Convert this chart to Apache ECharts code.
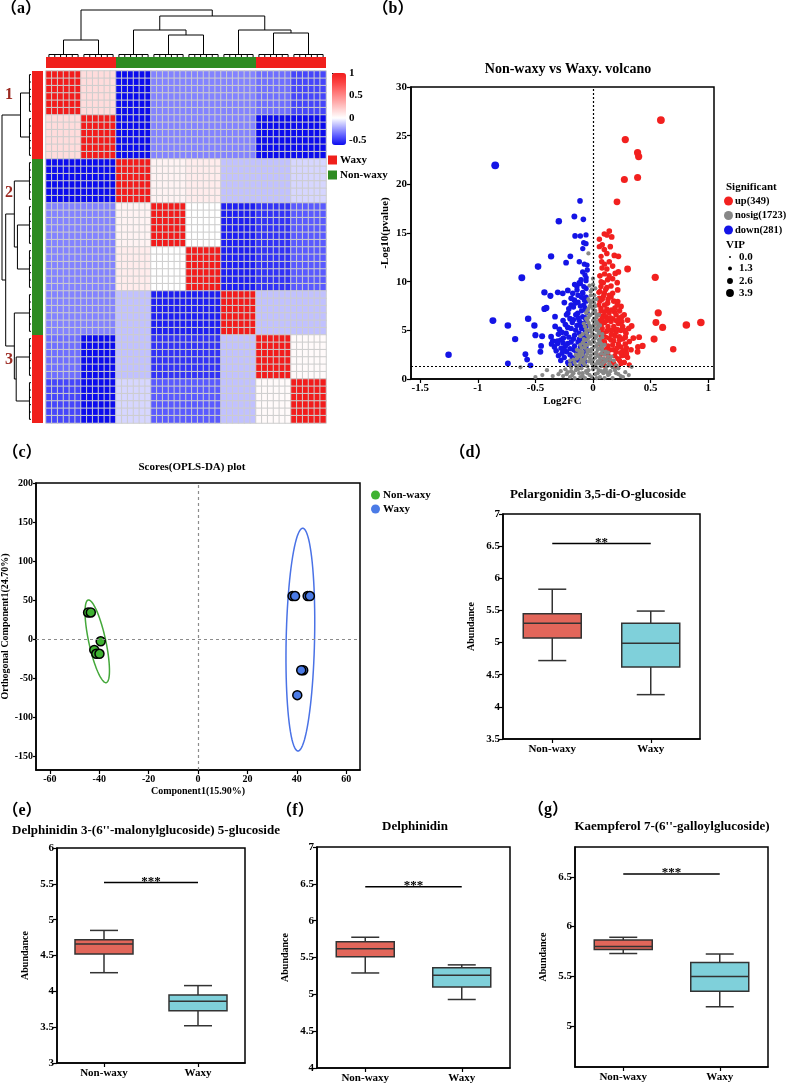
<!DOCTYPE html>
<html>
<head>
<meta charset="utf-8">
<script src="https://cdn.jsdelivr.net/npm/echarts@6/dist/echarts.min.js"></script>
<style>
html, body { margin: 0; padding: 0; background: #fff; }
#fig { width: 787px; height: 1084px; }
</style>
</head>
<body>
<div id="fig"></div>
<script>
// ---------- (a) sample correlation heatmap: 8 sample blocks x 6 replicates ----------
var blockCorr = [
    [1, 0.15, -0.6, -0.3, -0.3, -0.3, -0.35, -0.45],
    [0.15, 1, -0.6, -0.3, -0.3, -0.3, -0.6, -0.6],
    [-0.6, -0.6, 1, 0.05, 0.08, -0.15, -0.15, -0.1],
    [-0.3, -0.3, 0.05, 1, 0.0, -0.55, -0.5, -0.4],
    [-0.3, -0.3, 0.08, 0.0, 1, -0.55, -0.5, -0.4],
    [-0.3, -0.3, -0.15, -0.55, -0.55, 1, -0.15, -0.15],
    [-0.35, -0.6, -0.15, -0.5, -0.5, -0.15, 1, 0.02],
    [-0.45, -0.6, -0.1, -0.4, -0.4, -0.15, 0.02, 1]
];
var repsPerBlock = 6;
var blockGroups = ['Waxy', 'Waxy', 'Non-waxy', 'Non-waxy', 'Non-waxy', 'Non-waxy', 'Waxy', 'Waxy'];
// cluster tree over blocks: [left, right, mergeHeight]
var blockTree = [[0, 1, 17], [[2, [3, 4, 22], 27], [5, [6, 7, 24], 27], 41], 47];
var repMergeHeight = 2.5;
var corrTicks = [-0.5, 0, 0.5, 1];
var clusterLabels = ['1', '2', '3'];

// ---------- (b) volcano: [log2FC, -log10(p), VIP] ----------
var upPoints = [
    [0.589, 26.6, 3.9], [0.28, 24.6, 3.5], [0.387, 23.25, 3.5], [0.396, 22.85, 3.5], [0.272, 20.5, 3.4],
    [0.387, 20.7, 3.4], [0.208, 18.2, 3.2], [0.54, 10.45, 3.5], [0.30, 11.3, 3.2], [0.566, 6.8, 3.5],
    [0.546, 5.8, 3.3], [0.604, 5.3, 3.4], [0.81, 5.55, 3.7], [0.936, 5.8, 3.7], [0.53, 4.1, 3.4],
    [0.696, 3.05, 3.0], [0.335, 5.45, 2.6], [0.40, 4.3, 2.6], [0.35, 4.2, 2.6], [0.43, 3.4, 2.8],
    [0.39, 3.3, 2.6], [0.387, 2.8, 2.6], [0.286, 2.8, 2.4], [0.27, 1.7, 2.4], [0.315, 1.45, 2.2],
    [0.141, 15.2, 2.5], [0.098, 14.9, 2.4], [0.162, 14.6, 2.5], [0.055, 14.35, 2.3], [0.121, 14.8, 2.4],
    [0.055, 13.6, 2.3], [0.098, 13.3, 2.4], [0.15, 13.6, 2.4], [0.185, 12.7, 2.5], [0.22, 12.6, 2.6],
    [0.075, 12.05, 2.3], [0.141, 12.05, 2.4], [0.078, 11.4, 2.3], [0.12, 11.3, 2.4], [0.193, 10.85, 2.5],
    [0.22, 11.0, 2.5], [0.06, 10.6, 2.2], [0.127, 10.2, 2.4], [0.156, 9.55, 2.4], [0.069, 9.5, 2.3],
    [0.214, 9.15, 2.5], [0.098, 8.8, 2.3], [0.156, 8.45, 2.4], [0.055, 8.3, 2.2], [0.214, 7.95, 2.5],
    [0.127, 7.8, 2.4], [0.243, 7.45, 2.5], [0.069, 7.25, 2.3], [0.185, 6.9, 2.4], [0.27, 6.6, 2.5],
    [0.113, 6.4, 2.3], [0.228, 6.25, 2.4], [0.156, 5.9, 2.3], [0.30, 6.05, 2.5], [0.075, 5.65, 2.2],
    [0.257, 5.4, 2.4], [0.19, 5.05, 2.3], [0.12, 4.9, 2.3], [0.286, 4.7, 2.4], [0.228, 4.35, 2.3],
    [0.156, 4.0, 2.3], [0.098, 3.65, 2.2], [0.315, 3.85, 2.4], [0.243, 3.3, 2.3], [0.179, 3.0, 2.3],
    [0.127, 2.65, 2.2], [0.27, 2.45, 2.3], [0.214, 2.1, 2.2], [0.156, 1.75, 2.2], [0.243, 1.6, 2.2],
    [0.06, 9.0, 2.2], [0.08, 8.2, 2.3], [0.1, 7.6, 2.3], [0.07, 7.0, 2.2], [0.12, 7.2, 2.3],
    [0.09, 6.5, 2.3], [0.14, 6.8, 2.3], [0.06, 6.0, 2.2], [0.1, 5.8, 2.3], [0.17, 6.2, 2.3],
    [0.2, 6.6, 2.4], [0.08, 5.2, 2.2], [0.13, 5.4, 2.3], [0.22, 5.7, 2.4], [0.16, 4.6, 2.3],
    [0.07, 4.5, 2.2], [0.11, 4.3, 2.2], [0.2, 4.8, 2.3], [0.24, 5.0, 2.4], [0.26, 4.1, 2.3],
    [0.18, 3.9, 2.3], [0.13, 3.4, 2.2], [0.08, 3.9, 2.2], [0.22, 3.6, 2.3], [0.29, 3.2, 2.3],
    [0.15, 3.0, 2.2], [0.1, 2.6, 2.2], [0.2, 2.8, 2.2], [0.25, 2.4, 2.3], [0.12, 2.0, 2.1],
    [0.18, 1.6, 2.1], [0.23, 1.9, 2.2], [0.3, 2.2, 2.3], [0.27, 1.7, 2.2], [0.06, 10.6, 2.2],
    [0.09, 9.9, 2.3], [0.11, 9.2, 2.3], [0.14, 8.6, 2.3], [0.18, 8.0, 2.4], [0.19, 7.3, 2.4],
    [0.23, 7.0, 2.4], [0.16, 5.0, 2.3], [0.06, 8.0, 2.2], [0.07, 3.2, 2.1], [0.1, 11.8, 2.3],
    [0.17, 10.3, 2.4], [0.21, 9.9, 2.4], [0.12, 12.9, 2.4], [0.08, 13.8, 2.3],
    [0.08, 1.8, 2.1], [0.1, 1.4, 2.1], [0.14, 2.3, 2.2], [0.19, 2.4, 2.2], [0.06, 2.4, 2.1],
    [0.09, 3.0, 2.1], [0.12, 3.1, 2.2], [0.17, 3.5, 2.2], [0.21, 3.2, 2.3], [0.26, 2.9, 2.3],
    [0.06, 3.6, 2.1], [0.1, 3.8, 2.2], [0.14, 4.2, 2.2], [0.19, 4.4, 2.3], [0.23, 4.0, 2.3],
    [0.28, 3.6, 2.4], [0.06, 4.9, 2.1], [0.09, 4.7, 2.2], [0.13, 5.1, 2.2], [0.18, 5.4, 2.3],
    [0.21, 5.1, 2.3], [0.27, 5.0, 2.4], [0.05, 5.6, 2.1], [0.08, 6.2, 2.2], [0.12, 6.0, 2.2],
    [0.15, 6.3, 2.3], [0.2, 6.0, 2.3], [0.25, 5.9, 2.4], [0.05, 6.6, 2.1], [0.1, 6.9, 2.2],
    [0.16, 7.1, 2.3], [0.21, 7.6, 2.4], [0.05, 7.6, 2.1], [0.13, 8.2, 2.3], [0.09, 8.5, 2.2],
    [0.17, 8.8, 2.3], [0.05, 8.9, 2.1], [0.12, 9.4, 2.3], [0.07, 10.0, 2.2], [0.14, 10.6, 2.3],
    [0.1, 10.8, 2.3], [0.17, 11.6, 2.4], [0.07, 12.6, 2.2], [0.2, 1.3, 2.2], [0.29, 2.6, 2.3],
    [0.33, 3.0, 2.4], [0.24, 2.7, 2.3], [0.28, 4.3, 2.4], [0.31, 5.2, 2.4], [0.25, 6.4, 2.4]
];
var downPoints = [
    [-0.849, 21.95, 3.9], [-0.113, 18.3, 2.4], [-0.297, 16.2, 3.0], [-0.162, 16.7, 2.6], [-0.084, 16.4, 2.4],
    [-0.364, 12.6, 2.9], [-0.477, 11.55, 3.1], [-0.618, 10.4, 3.3], [-0.869, 6.0, 3.3], [-0.739, 5.5, 3.1],
    [-0.563, 6.2, 3.0], [-0.509, 5.5, 2.9], [-0.676, 4.1, 2.9], [-0.5, 4.5, 2.8], [-0.442, 4.4, 2.7],
    [-1.254, 2.5, 3.0], [-0.739, 1.6, 2.6], [-0.543, 1.4, 2.5], [-0.587, 2.55, 2.6], [-0.572, 2.0, 2.5],
    [-0.457, 2.8, 2.6], [-0.451, 3.4, 2.6], [-0.422, 8.9, 2.9], [-0.37, 8.55, 2.8], [-0.422, 7.2, 2.8],
    [-0.405, 7.3, 2.8],
    [-0.156, 14.7, 2.4], [-0.11, 14.7, 2.3], [-0.061, 14.8, 2.2], [-0.081, 14.0, 2.2], [-0.061, 13.9, 2.2],
    [-0.089, 13.4, 2.2], [-0.197, 12.6, 2.5], [-0.234, 11.95, 2.5], [-0.119, 12.05, 2.3], [-0.075, 11.8, 2.2],
    [-0.052, 11.7, 2.2], [-0.104, 10.2, 2.3], [-0.061, 10.1, 2.2], [-0.306, 8.9, 2.6], [-0.263, 8.8, 2.5],
    [-0.219, 9.1, 2.5], [-0.176, 8.8, 2.4], [-0.139, 9.15, 2.3], [-0.249, 7.85, 2.5], [-0.19, 7.6, 2.4],
    [-0.162, 8.1, 2.4], [-0.219, 6.75, 2.4], [-0.329, 5.4, 2.5], [-0.292, 5.1, 2.5], [-0.364, 4.35, 2.5],
    [-0.306, 3.65, 2.4], [-0.234, 4.7, 2.4], [-0.219, 3.65, 2.3], [-0.269, 2.65, 2.3], [-0.277, 3.15, 2.4],
    [-0.167, 3.0, 2.3], [-0.133, 1.95, 2.2], [-0.19, 1.8, 2.2], [-0.104, 4.0, 2.2], [-0.089, 5.7, 2.2],
    [-0.133, 6.75, 2.3], [-0.061, 7.1, 2.2], [-0.089, 8.8, 2.2], [-0.075, 8.1, 2.2], [-0.119, 4.7, 2.2],
    [-0.061, 4.7, 2.1], [-0.061, 3.3, 2.1], [-0.089, 2.65, 2.1], [-0.335, 3.3, 2.4], [-0.349, 3.9, 2.5],
    [-0.257, 4.2, 2.4],
    [-0.06, 9.3, 2.2], [-0.08, 7.6, 2.2], [-0.1, 7.0, 2.2], [-0.07, 6.3, 2.2], [-0.12, 6.0, 2.3],
    [-0.15, 6.6, 2.3], [-0.06, 5.4, 2.1], [-0.1, 5.2, 2.2], [-0.14, 5.5, 2.3], [-0.18, 5.8, 2.3],
    [-0.2, 6.2, 2.4], [-0.22, 5.3, 2.4], [-0.08, 4.4, 2.2], [-0.12, 4.1, 2.2], [-0.16, 4.5, 2.3],
    [-0.19, 3.8, 2.3], [-0.24, 3.4, 2.3], [-0.07, 3.7, 2.1], [-0.11, 3.3, 2.2], [-0.15, 2.9, 2.2],
    [-0.2, 2.5, 2.2], [-0.25, 2.2, 2.3], [-0.09, 2.4, 2.1], [-0.13, 2.1, 2.1], [-0.17, 1.6, 2.1],
    [-0.22, 1.7, 2.2], [-0.28, 1.9, 2.3], [-0.06, 8.4, 2.2], [-0.09, 8.9, 2.2], [-0.13, 7.9, 2.3],
    [-0.17, 7.4, 2.3], [-0.11, 9.8, 2.3], [-0.07, 10.7, 2.2], [-0.05, 11.2, 2.2], [-0.14, 9.5, 2.3],
    [-0.21, 7.2, 2.4], [-0.26, 6.0, 2.4], [-0.3, 4.6, 2.4], [-0.32, 2.9, 2.4], [-0.05, 6.8, 2.1],
    [-0.05, 4.9, 2.1],
    [-0.07, 1.8, 2.1], [-0.1, 1.5, 2.1], [-0.14, 2.5, 2.2], [-0.18, 2.2, 2.2], [-0.23, 2.8, 2.3],
    [-0.07, 2.9, 2.1], [-0.11, 2.8, 2.2], [-0.16, 3.4, 2.2], [-0.2, 3.1, 2.3], [-0.26, 3.7, 2.3],
    [-0.06, 4.1, 2.1], [-0.09, 3.6, 2.2], [-0.13, 3.8, 2.2], [-0.17, 4.1, 2.3], [-0.21, 4.3, 2.3],
    [-0.27, 4.8, 2.4], [-0.07, 5.0, 2.1], [-0.11, 5.6, 2.2], [-0.15, 5.0, 2.3], [-0.19, 5.2, 2.3],
    [-0.24, 5.6, 2.4], [-0.06, 6.0, 2.1], [-0.09, 6.4, 2.2], [-0.13, 6.3, 2.2], [-0.17, 6.1, 2.3],
    [-0.23, 6.6, 2.4], [-0.07, 7.3, 2.2], [-0.11, 7.5, 2.2], [-0.15, 7.8, 2.3], [-0.19, 8.3, 2.4],
    [-0.06, 8.0, 2.1], [-0.1, 8.4, 2.2], [-0.13, 8.6, 2.3], [-0.08, 9.5, 2.2], [-0.12, 9.9, 2.3],
    [-0.16, 9.7, 2.3], [-0.06, 10.4, 2.2], [-0.09, 11.0, 2.2], [-0.28, 4.0, 2.4], [-0.31, 3.9, 2.4],
    [-0.25, 3.0, 2.3], [-0.21, 1.5, 2.2], [-0.3, 2.4, 2.3], [-0.36, 3.6, 2.5], [-0.33, 6.4, 2.5]
];
var nosigPoints = [
    [-0.02, 8.6, 1.5], [0.0, 9.7, 1.5], [-0.04, 12.9, 1.5], [-0.03, 8.0, 1.5], [0.01, 7.8, 1.5],
    [-0.04, 7.2, 1.5], [0.02, 7.0, 1.5], [-0.02, 6.6, 1.5], [0.03, 6.3, 1.5], [-0.05, 6.0, 1.5],
    [0.0, 6.0, 1.5], [0.04, 5.7, 1.5], [-0.03, 5.5, 1.5], [-0.06, 5.1, 1.5], [0.02, 5.2, 1.5],
    [0.05, 4.9, 1.5], [-0.01, 4.8, 1.5], [-0.05, 4.5, 1.5], [0.03, 4.4, 1.5], [-0.08, 4.1, 1.5],
    [0.06, 4.1, 1.5], [0.0, 4.0, 1.5], [-0.03, 3.8, 1.5], [0.04, 3.6, 1.5], [-0.07, 3.5, 1.5],
    [-0.1, 3.2, 1.5], [0.07, 3.3, 1.5], [0.01, 3.3, 1.5], [-0.04, 3.0, 1.5], [0.08, 2.9, 1.5],
    [-0.09, 2.8, 1.5], [-0.12, 2.6, 1.5], [0.03, 2.7, 1.5], [0.1, 2.5, 1.5], [-0.02, 2.4, 1.5],
    [-0.06, 2.3, 1.5], [0.06, 2.2, 1.5], [-0.14, 2.1, 1.5], [0.12, 2.0, 1.5], [-0.1, 2.0, 1.5],
    [0.0, 2.0, 1.5], [-0.04, 1.8, 1.5], [0.04, 1.8, 1.5], [0.09, 1.7, 1.5], [-0.08, 1.6, 1.5],
    [-0.16, 1.7, 1.5], [0.14, 1.6, 1.5], [-0.12, 1.4, 1.5], [0.02, 1.5, 1.5], [0.07, 1.3, 1.5],
    [-0.05, 1.3, 1.5], [-0.19, 1.2, 1.5], [0.17, 1.2, 1.5], [-0.1, 1.1, 1.5], [0.11, 1.0, 1.5],
    [0.0, 1.0, 1.5], [-0.15, 0.9, 1.5], [0.05, 0.9, 1.5], [-0.06, 0.8, 1.5], [0.15, 0.8, 1.5],
    [-0.22, 0.7, 1.5], [0.2, 0.6, 1.5], [-0.12, 0.6, 1.5], [0.09, 0.6, 1.5], [0.02, 0.5, 1.5],
    [-0.03, 0.4, 1.5], [-0.18, 0.4, 1.5], [0.13, 0.4, 1.5], [-0.26, 0.3, 1.5], [0.24, 0.3, 1.5],
    [-0.09, 0.3, 1.5], [0.06, 0.2, 1.5], [-0.3, 0.5, 1.5], [0.28, 0.7, 1.5], [-0.35, 0.3, 1.5],
    [-0.63, 1.2, 1.5], [-0.44, 0.4, 1.5], [0.335, 1.25, 1.5], [0.31, 0.4, 1.5], [-0.5, 0.2, 1.5],
    [-0.4, 0.9, 1.5], [0.2, 1.4, 1.5], [-0.2, 1.9, 1.5], [0.16, 2.3, 1.5], [-0.14, 3.0, 1.5],
    [0.1, 3.5, 1.5], [-0.11, 4.4, 1.5], [0.08, 4.6, 1.5], [-0.08, 5.7, 1.5], [0.06, 5.5, 1.5],
    [-0.06, 6.8, 1.5], [0.05, 6.6, 1.5], [-0.01, 7.4, 1.5], [0.03, 8.2, 1.5], [-0.05, 2.9, 1.5],
    [0.01, 2.6, 1.5], [-0.01, 0.2, 1.5], [0.03, 1.2, 1.5], [-0.08, 1.9, 1.5], [0.05, 1.6, 1.5],
    [-0.02, 3.6, 1.5], [0.05, 3.1, 1.5], [-0.06, 4.0, 1.5], [0.02, 4.2, 1.5], [-0.03, 5.0, 1.5],
    [0.01, 5.6, 1.5], [-0.13, 1.0, 1.5], [0.12, 1.3, 1.5], [-0.17, 0.6, 1.5], [0.18, 1.9, 1.5],
    [-0.24, 1.0, 1.5], [0.22, 1.1, 1.5], [-0.07, 0.1, 1.5], [0.1, 0.1, 1.5], [-0.28, 0.8, 1.5],
    [0.26, 0.2, 1.5], [-0.11, 2.3, 1.5], [0.09, 2.1, 1.5], [-0.03, 2.2, 1.5], [0.04, 2.4, 1.5],
    [-0.09, 3.7, 1.5], [0.06, 3.8, 1.5], [-0.02, 4.4, 1.5], [0.03, 5.0, 1.5], [-0.04, 6.3, 1.5],
    [0.02, 6.8, 1.5], [0.0, 7.2, 1.5], [-0.02, 7.8, 1.5], [0.01, 8.6, 1.5], [-0.01, 9.2, 1.5],
    [-0.15, 1.4, 1.5], [0.14, 0.5, 1.5], [-0.2, 0.2, 1.5], [0.07, 0.8, 1.5], [-0.01, 1.6, 1.5],
    [-0.05, 0.6, 1.5],
    [-0.11, 0.2, 1.5], [-0.16, 0.1, 1.5], [0.03, 0.1, 1.5], [0.17, 0.1, 1.5], [-0.04, 0.9, 1.5],
    [0.1, 0.9, 1.5], [-0.19, 0.8, 1.5], [0.04, 0.6, 1.5], [-0.09, 0.6, 1.5], [0.12, 0.7, 1.5],
    [-0.14, 1.2, 1.5], [0.0, 1.3, 1.5], [0.08, 1.5, 1.5], [-0.07, 1.4, 1.5], [0.15, 1.4, 1.5],
    [-0.11, 1.7, 1.5], [0.11, 1.8, 1.5], [-0.02, 1.9, 1.5], [0.06, 1.9, 1.5], [-0.13, 2.3, 1.5],
    [-0.07, 2.1, 1.5], [0.02, 2.2, 1.5], [0.13, 2.3, 1.5], [-0.09, 2.5, 1.5], [0.07, 2.6, 1.5],
    [-0.05, 2.6, 1.5], [0.11, 2.8, 1.5], [-0.12, 2.9, 1.5], [-0.02, 2.8, 1.5], [0.04, 3.0, 1.5],
    [-0.07, 3.2, 1.5], [0.08, 3.2, 1.5], [-0.01, 3.1, 1.5], [-0.11, 3.5, 1.5], [0.03, 3.4, 1.5],
    [0.07, 3.6, 1.5], [-0.05, 3.5, 1.5], [-0.08, 3.9, 1.5], [0.01, 3.8, 1.5], [0.05, 4.0, 1.5],
    [-0.04, 4.2, 1.5], [0.08, 4.3, 1.5], [-0.09, 4.6, 1.5], [0.01, 4.5, 1.5], [0.05, 4.7, 1.5],
    [-0.06, 4.8, 1.5], [-0.02, 5.2, 1.5], [0.04, 5.3, 1.5], [-0.07, 5.4, 1.5], [0.0, 5.4, 1.5],
    [-0.04, 5.8, 1.5], [0.03, 5.9, 1.5], [-0.06, 6.2, 1.5], [0.01, 6.2, 1.5], [-0.03, 6.6, 1.5],
    [0.03, 6.6, 1.5], [-0.05, 7.0, 1.5], [0.0, 6.8, 1.5], [-0.03, 7.5, 1.5], [0.02, 7.5, 1.5],
    [-0.04, 8.2, 1.5], [0.0, 8.1, 1.5], [-0.02, 9.0, 1.5], [0.02, 9.3, 1.5], [-0.03, 9.6, 1.5],
    [0.0, 10.3, 1.5], [-0.2, 1.5, 1.5], [0.19, 0.9, 1.5], [-0.23, 0.5, 1.5], [0.22, 0.5, 1.5],
    [-0.17, 2.0, 1.5], [0.15, 2.0, 1.5], [-0.15, 2.5, 1.5], [0.13, 2.7, 1.5]
];
var volcanoNames = ['up(349)', 'nosig(1723)', 'down(281)'];
var volcanoXTicks = [-1.5, -1, -0.5, 0, 0.5, 1];
var pThreshold = 1.3;
var vipLegend = [0.0, 1.3, 2.6, 3.9];

// ---------- (c) OPLS-DA scores ----------
var nonWaxyScores = [[-44.5, 34], [-43.4, 34], [-39.4, -3], [-42, -14], [-41.2, -19], [-39.9, -19]];
var waxyScores = [[38.3, 55], [39.3, 55], [44.4, 55], [45.3, 55], [42.6, -40], [41.8, -40], [40.2, -72]];
// confidence ellipses: [centerX, centerY, halfWidth, halfHeight, top x-offset]
var scoreEllipses = [[-40.8, -3, 3.5, 53, -3.5], [41.45, -0.8, 5.75, 142.8, 0.95]];
var oplsXTicks = [-60, -40, -20, 0, 20, 40, 60];
var oplsYTicks = [-150, -100, -50, 0, 50, 100, 150, 200];

// ---------- (d)-(g) box plots: [min, Q1, median, Q3, max] ----------
var boxCategories = ['Non-waxy', 'Waxy'];
var pelargonidinStats = [[4.72, 5.07, 5.30, 5.45, 5.83], [4.19, 4.62, 4.99, 5.30, 5.49]];
var delphMalonylStats = [[4.26, 4.52, 4.66, 4.72, 4.85], [3.52, 3.73, 3.86, 3.95, 4.08]];
var delphinidinStats = [[5.29, 5.51, 5.62, 5.715, 5.775], [4.93, 5.10, 5.26, 5.36, 5.40]];
var kaempferolStats = [[5.73, 5.77, 5.80, 5.866, 5.893], [5.195, 5.35, 5.50, 5.64, 5.725]];
var boxTitles = ['Pelargonidin 3,5-di-O-glucoside', "Delphinidin 3-(6''-malonylglucoside) 5-glucoside",
    'Delphinidin', "Kaempferol 7-(6''-galloylglucoside)"];
var sigLevels = [6.54, 5.52, 6.46, 6.53];
var sigMarks = ['**', '***', '***', '***'];
var boxYRanges = [[3.5, 7], [3, 6], [4, 7], [4.59, 6.8]];
var boxYTicks = [
    [3.5, 4, 4.5, 5, 5.5, 6, 6.5, 7],
    [3, 3.5, 4, 4.5, 5, 5.5, 6],
    [4, 4.5, 5, 5.5, 6, 6.5, 7],
    [5, 5.5, 6, 6.5]
];

// ================= build =================
var serif = '"Liberation Serif", "Times New Roman", serif';
var boldLbl = { fontFamily: serif, fontWeight: 'bold', fontSize: 11, color: '#000' };
var nCells = blockCorr.length * repsPerBlock;

var heatData = [];
for (var i = 0; i < nCells; i++) {
    for (var j = 0; j < nCells; j++) {
        heatData.push([j, i, blockCorr[Math.floor(i / repsPerBlock)][Math.floor(j / repsPerBlock)]]);
    }
}
var cellNames = [];
for (var c = 0; c < nCells; c++) cellNames.push(String(c));

// dendrogram segments [pos1, h1, pos2, h2]
function treeSegs(node, segs) {
    if (typeof node === 'number') {
        var a = node * repsPerBlock + 0.5, b = a + repsPerBlock - 1;
        for (var k = 0; k < repsPerBlock; k++) segs.push([a + k, 0, a + k, repMergeHeight]);
        segs.push([a, repMergeHeight, b, repMergeHeight]);
        return { pos: (a + b) / 2, h: repMergeHeight };
    }
    var L = treeSegs(node[0], segs), R = treeSegs(node[1], segs), h = node[2];
    segs.push([L.pos, L.h, L.pos, h]);
    segs.push([R.pos, R.h, R.pos, h]);
    segs.push([L.pos, h, R.pos, h]);
    return { pos: (L.pos + R.pos) / 2, h: h };
}
var treeSegments = [];
treeSegs(blockTree, treeSegments);
var treeTop = treeSegments.map(function (s) { return s; });
var treeLeft = treeSegments.map(function (s) { return [s[1], s[0], s[3], s[2]]; });

// group runs for annotation bars
function groupRuns(name) {
    var runs = [], start = null;
    for (var b = 0; b <= blockGroups.length; b++) {
        var hit = blockGroups[b] === name;
        if (hit && start === null) start = b;
        if (!hit && start !== null) { runs.push([start * repsPerBlock, b * repsPerBlock]); start = null; }
    }
    return runs;
}
var groupColor = { 'Waxy': '#f0201c', 'Non-waxy': '#2e8b22' };

function segRender(params, api) {
    var p1 = api.coord([api.value(0), api.value(1)]);
    var p2 = api.coord([api.value(2), api.value(3)]);
    return { type: 'line', shape: { x1: p1[0], y1: p1[1], x2: p2[0], y2: p2[1] },
        style: { stroke: '#000', lineWidth: 1 } };
}
function colBarRender(params, api) {
    var p1 = api.coord([api.value(0), 1]), p2 = api.coord([api.value(1), 0]);
    return { type: 'rect', shape: { x: p1[0], y: p1[1], width: p2[0] - p1[0], height: p2[1] - p1[1] },
        style: { fill: api.visual('color') } };
}
function rowBarRender(params, api) {
    var p1 = api.coord([0, api.value(0)]), p2 = api.coord([1, api.value(1)]);
    return { type: 'rect', shape: { x: p1[0], y: p1[1], width: p2[0] - p1[0], height: p2[1] - p1[1] },
        style: { fill: api.visual('color') } };
}
function ellipseRender(params, api) {
    var cx = api.value(0), cy = api.value(1), rx = api.value(2), ry = api.value(3), sx = api.value(4);
    var pts = [];
    for (var k = 0; k <= 90; k++) {
        var t = k / 90 * Math.PI * 2;
        pts.push(api.coord([cx + rx * Math.cos(t) + sx * Math.sin(t), cy + ry * Math.sin(t)]));
    }
    return { type: 'polyline', shape: { points: pts },
        style: { fill: null, stroke: ['#44a83a', '#4a72e6'][params.dataIndex], lineWidth: 1.5 } };
}
var boxFills = ['#e2665a', '#7fd0da'];
function boxRender(params, api) {
    var cat = api.value(0);
    var pMin = api.coord([cat, api.value(1)]), pQ1 = api.coord([cat, api.value(2)]);
    var pMed = api.coord([cat, api.value(3)]), pQ3 = api.coord([cat, api.value(4)]);
    var pMax = api.coord([cat, api.value(5)]);
    var x = pMed[0], hw = 29, cw = 14;
    var ln = { stroke: '#333', lineWidth: 1.5 };
    return { type: 'group', children: [
        { type: 'line', shape: { x1: x, y1: pMax[1], x2: x, y2: pQ3[1] }, style: ln },
        { type: 'line', shape: { x1: x, y1: pMin[1], x2: x, y2: pQ1[1] }, style: ln },
        { type: 'line', shape: { x1: x - cw, y1: pMax[1], x2: x + cw, y2: pMax[1] }, style: ln },
        { type: 'line', shape: { x1: x - cw, y1: pMin[1], x2: x + cw, y2: pMin[1] }, style: ln },
        { type: 'rect', shape: { x: x - hw, y: pQ3[1], width: hw * 2, height: pQ1[1] - pQ3[1] },
            style: { fill: boxFills[cat], stroke: '#333', lineWidth: 1.5 } },
        { type: 'line', shape: { x1: x - hw, y1: pMed[1], x2: x + hw, y2: pMed[1] }, style: ln }
    ] };
}
function sigRender(params, api) {
    var p1 = api.coord([0, api.value(1)]), p2 = api.coord([1, api.value(1)]);
    var mark = sigMarks[api.value(0)];
    return { type: 'group', children: [
        { type: 'line', shape: { x1: p1[0], y1: p1[1], x2: p2[0], y2: p2[1] },
            style: { stroke: '#000', lineWidth: 1.5 } },
        { type: 'text', style: { text: mark, x: (p1[0] + p2[0]) / 2, y: p1[1] - 1,
            textAlign: 'center', textVerticalAlign: 'middle', align: 'center', verticalAlign: 'middle',
            font: 'bold 13px ' + serif, fill: '#000' } }
    ] };
}

function hiddenAxis(grid, extra) {
    return Object.assign({ gridIndex: grid, show: false, type: 'value' }, extra || {});
}
function plotAxis(grid, extra) {
    return Object.assign({
        gridIndex: grid, type: 'value',
        axisLine: { show: true, onZero: false, lineStyle: { color: '#000', width: 1.5 } },
        axisTick: { show: true, inside: false, length: 4, lineStyle: { color: '#000', width: 1.2 } },
        axisLabel: Object.assign({ margin: 4 }, boldLbl),
        splitLine: { show: false },
        nameTextStyle: Object.assign({}, boldLbl),
        nameLocation: 'middle'
    }, extra || {});
}
function frameGrid(l, t, w, h) {
    return { left: l, top: t, width: w, height: h, show: true, borderColor: '#000', borderWidth: 1.5,
        backgroundColor: 'transparent', outerBoundsMode: 'none', containLabel: false };
}
function plainGrid(l, t, w, h) {
    return { left: l, top: t, width: w, height: h, outerBoundsMode: 'none', containLabel: false };
}

var grids = [
    plainGrid(46, 71, 280, 352),   // 0 heatmap
    plainGrid(46, 10, 280, 47),    // 1 top tree
    plainGrid(2, 71, 29, 352),     // 2 left tree
    plainGrid(46, 57, 280, 11),    // 3 column bar
    plainGrid(32, 71, 11, 352),    // 4 row bar
    plainGrid(332, 73, 14, 72),    // 5 colour key axis
    frameGrid(411, 87, 303, 292),  // 6 volcano
    frameGrid(36, 483, 324, 287),  // 7 OPLS-DA
    frameGrid(503, 514, 197, 225), // 8 box d
    frameGrid(57, 848, 188, 215),  // 9 box e
    frameGrid(317, 847, 193, 221), // 10 box f
    frameGrid(575, 847, 193, 220)  // 11 box g
];

var xAxes = [
    { gridIndex: 0, type: 'category', data: cellNames, show: false },
    hiddenAxis(1, { min: 0, max: nCells }),
    hiddenAxis(2, { min: 0, max: 47, inverse: true }),
    hiddenAxis(3, { min: 0, max: nCells }),
    hiddenAxis(4, { min: 0, max: 1 }),
    hiddenAxis(5, { min: 0, max: 1 }),
    plotAxis(6, { min: -1.58, max: 1.05, name: 'Log2FC', nameGap: 17,
        axisLabel: Object.assign({ margin: 4, customValues: volcanoXTicks }, boldLbl),
        axisTick: { show: true, length: 4, customValues: volcanoXTicks, lineStyle: { color: '#000', width: 1.2 } } }),
    plotAxis(7, { min: -65.6, max: 65.6, name: 'Component1(15.90%)', nameGap: 16,
        axisLabel: Object.assign({ margin: 4, customValues: oplsXTicks }, boldLbl, { fontSize: 10 }),
        axisTick: { show: true, length: 4, customValues: oplsXTicks, lineStyle: { color: '#000', width: 1.2 } },
        nameTextStyle: Object.assign({}, boldLbl, { fontSize: 10 }) })
];
var yAxes = [
    { gridIndex: 0, type: 'category', data: cellNames, show: false, inverse: true },
    hiddenAxis(1, { min: 0, max: 47 }),
    hiddenAxis(2, { min: 0, max: nCells, inverse: true }),
    hiddenAxis(3, { min: 0, max: 1 }),
    hiddenAxis(4, { min: 0, max: nCells, inverse: true }),
    { gridIndex: 5, type: 'value', position: 'right', min: -0.6, max: 1,
        axisLine: { show: false }, splitLine: { show: false },
        axisTick: { show: true, length: 3, customValues: corrTicks, lineStyle: { color: '#000' } },
        axisLabel: Object.assign({ margin: 3, customValues: corrTicks }, boldLbl) },
    plotAxis(6, { min: 0, max: 30, interval: 5, name: '-Log10(pvalue)', nameGap: 20 }),
    plotAxis(7, { min: -168, max: 200, name: 'Orthogonal Component1(24.70%)', nameGap: 24,
        axisLabel: Object.assign({ margin: 3, customValues: oplsYTicks }, boldLbl, { fontSize: 10 }),
        axisTick: { show: true, length: 3, customValues: oplsYTicks, lineStyle: { color: '#000', width: 1.2 } },
        nameTextStyle: Object.assign({}, boldLbl, { fontSize: 10 }) })
];

var boxStats = [pelargonidinStats, delphMalonylStats, delphinidinStats, kaempferolStats];
var series = [
    { type: 'heatmap', xAxisIndex: 0, yAxisIndex: 0, data: heatData, silent: true,
        itemStyle: { borderColor: '#cdcdcd', borderWidth: 1 }, progressive: 0 },
    { type: 'custom', xAxisIndex: 1, yAxisIndex: 1, data: treeTop, renderItem: segRender, silent: true },
    { type: 'custom', xAxisIndex: 2, yAxisIndex: 2, data: treeLeft, renderItem: segRender, silent: true }
];
['Waxy', 'Non-waxy'].forEach(function (g) {
    series.push({ type: 'custom', name: g, xAxisIndex: 3, yAxisIndex: 3, data: groupRuns(g),
        renderItem: colBarRender, itemStyle: { color: groupColor[g] }, silent: true });
    series.push({ type: 'custom', name: g, xAxisIndex: 4, yAxisIndex: 4, data: groupRuns(g),
        renderItem: rowBarRender, itemStyle: { color: groupColor[g] }, silent: true });
});

function vipSize(d) { return 2 + d[2] * 1.5; }
series.push({ type: 'scatter', name: volcanoNames[0], xAxisIndex: 6, yAxisIndex: 6, data: upPoints,
    symbolSize: vipSize, itemStyle: { color: '#f2201f', opacity: 1 }, silent: true });
series.push({ type: 'scatter', name: volcanoNames[2], xAxisIndex: 6, yAxisIndex: 6, data: downPoints,
    symbolSize: vipSize, itemStyle: { color: '#1414e6', opacity: 1 }, silent: true });
series.push({ type: 'scatter', name: volcanoNames[1], xAxisIndex: 6, yAxisIndex: 6, data: nosigPoints,
    symbolSize: vipSize, itemStyle: { color: '#878787', opacity: 1 }, silent: true,
    markLine: { silent: true, symbol: ['none', 'none'], label: { show: false },
        lineStyle: { color: '#000', type: [2, 2], width: 1.2 },
        data: [{ xAxis: 0 }, { yAxis: pThreshold }] } });

series.push({ type: 'custom', xAxisIndex: 7, yAxisIndex: 7, data: scoreEllipses, renderItem: ellipseRender,
    silent: true, z: 1 });
series.push({ type: 'scatter', name: 'Non-waxy', xAxisIndex: 7, yAxisIndex: 7, data: nonWaxyScores, symbolSize: 9,
    itemStyle: { color: '#3fb232', borderColor: '#000', borderWidth: 1.5, opacity: 1 }, silent: true, z: 3,
    markLine: { silent: true, symbol: ['none', 'none'], label: { show: false },
        lineStyle: { color: '#8c8c8c', type: [3, 3], width: 1.2 },
        data: [{ xAxis: 0 }, { yAxis: 0 }] } });
series.push({ type: 'scatter', name: 'Waxy', xAxisIndex: 7, yAxisIndex: 7, data: waxyScores, symbolSize: 9,
    itemStyle: { color: '#4b7be6', borderColor: '#000', borderWidth: 1.5, opacity: 1 }, silent: true, z: 3 });

var graphics = [];
function txt(x, y, s, size, extra) {
    return { type: 'text', x: x, y: y, silent: true, style: Object.assign({
        text: s, fill: '#000', font: 'bold ' + size + 'px ' + serif,
        textAlign: 'center', textVerticalAlign: 'middle', align: 'center', verticalAlign: 'middle' }, extra || {}) };
}
var boxTitlePos = [[598, 495], [146, 831], [415, 827], [672, 827]];
boxStats.forEach(function (stats, k) {
    var g = 8 + k;
    xAxes.push(plotAxis(g, { type: 'category', data: boxCategories, boundaryGap: true,
        axisTick: { show: true, alignWithLabel: true, length: 4, lineStyle: { color: '#000', width: 1.2 } },
        axisLabel: Object.assign({ margin: 5 }, boldLbl) }));
    yAxes.push(plotAxis(g, { min: boxYRanges[k][0], max: boxYRanges[k][1], name: 'Abundance', nameGap: 27,
        axisLabel: Object.assign({ margin: 3, customValues: boxYTicks[k] }, boldLbl),
        axisTick: { show: true, length: 4, customValues: boxYTicks[k], lineStyle: { color: '#000', width: 1.2 } },
        nameTextStyle: Object.assign({}, boldLbl, { fontSize: 10 }) }));
    series.push({ type: 'custom', xAxisIndex: g, yAxisIndex: g, renderItem: boxRender, silent: true,
        encode: { x: 0, y: [1, 2, 3, 4, 5] },
        data: stats.map(function (s, ci) { return [ci].concat(s); }) });
    series.push({ type: 'custom', xAxisIndex: g, yAxisIndex: g, renderItem: sigRender, silent: true,
        encode: { x: 0, y: 1 }, data: [[k, sigLevels[k]]] });
    graphics.push(txt(boxTitlePos[k][0], boxTitlePos[k][1], boxTitles[k], 13));
});

// panel letters and titles
var cjkSerif = '"Liberation Serif", "Noto Sans CJK SC", serif';
[['（a）', 21, 9], ['（b）', 393, 9], ['（c）', 22, 453], ['（d）', 470, 453],
 ['（e）', 22, 811], ['（f）', 295, 811], ['（g）', 548, 810]].forEach(function (p) {
    graphics.push(txt(p[1], p[2], p[0], 16, { font: 'bold 16px ' + cjkSerif }));
});
graphics.push(txt(568, 69, 'Non-waxy vs Waxy. volcano', 14));
graphics.push(txt(192, 467, 'Scores(OPLS-DA) plot', 11));
var clusterLabelY = [95, 193, 360];
clusterLabels.forEach(function (s, k) {
    graphics.push(txt(9, clusterLabelY[k], s, 16, { fill: '#9c2a22' }));
});
graphics.push(txt(726, 187, 'Significant', 11, { textAlign: 'left', align: 'left' }));
graphics.push(txt(726, 245, 'VIP', 11, { textAlign: 'left', align: 'left' }));
var vipRowY = [257, 268.5, 281, 293];
vipLegend.forEach(function (v, k) {
    graphics.push({ type: 'circle', silent: true, shape: { cx: 730, cy: vipRowY[k], r: vipSize([0, 0, v]) / 2 },
        style: { fill: '#000' } });
    graphics.push(txt(739, vipRowY[k], v.toFixed(1), 11, { textAlign: 'left', align: 'left' }));
});

var legendText = Object.assign({}, boldLbl, { padding: [0, 0, 0, -2] });
var option = {
    animation: false,
    backgroundColor: '#fff',
    textStyle: { fontFamily: serif },
    grid: grids,
    xAxis: xAxes,
    yAxis: yAxes,
    visualMap: {
        type: 'continuous', seriesIndex: 0, min: -0.6, max: 1, calculable: false, hoverLink: false,
        orient: 'vertical', left: 332, top: 73, itemWidth: 14, itemHeight: 72, padding: 0, text: null,
        inRange: { color: ['#0c0cee', '#5a5aff', '#adadff', '#ffffff', '#ffd0d0', '#ffa0a0', '#ff7070', '#fb4040', '#f21c1c'] }
    },
    legend: [
        { left: 328, top: 154.5, orient: 'vertical', itemWidth: 9, itemHeight: 9, itemGap: 4, padding: 0,
          icon: 'rect', textStyle: legendText, selectedMode: false,
          data: [{ name: 'Waxy', itemStyle: { color: groupColor['Waxy'], borderWidth: 0 } },
                 { name: 'Non-waxy', itemStyle: { color: groupColor['Non-waxy'], borderWidth: 0 } }] },
        { left: 724, top: 195.5, orient: 'vertical', itemWidth: 9, itemHeight: 9, itemGap: 3.5, padding: 0,
          icon: 'circle', selectedMode: false,
          textStyle: Object.assign({}, legendText, { fontSize: 10.5, padding: [0, 0, 0, -3], width: 70, overflow: 'none' }),
          data: [{ name: volcanoNames[0], itemStyle: { color: '#f2201f', borderWidth: 0 } },
                 { name: volcanoNames[1], itemStyle: { color: '#878787', borderWidth: 0 } },
                 { name: volcanoNames[2], itemStyle: { color: '#1414e6', borderWidth: 0 } }] },
        { left: 371, top: 489.5, orient: 'vertical', itemWidth: 9, itemHeight: 9, itemGap: 3, padding: 0,
          icon: 'circle', textStyle: legendText, selectedMode: false,
          data: [{ name: 'Non-waxy', itemStyle: { color: '#3fb232', borderWidth: 0 } },
                 { name: 'Waxy', itemStyle: { color: '#4b7be6', borderWidth: 0 } }] }
    ],
    graphic: graphics,
    series: series
};

var chart = echarts.init(document.getElementById('fig'));
chart.setOption(option);
</script>
</body>
</html>
